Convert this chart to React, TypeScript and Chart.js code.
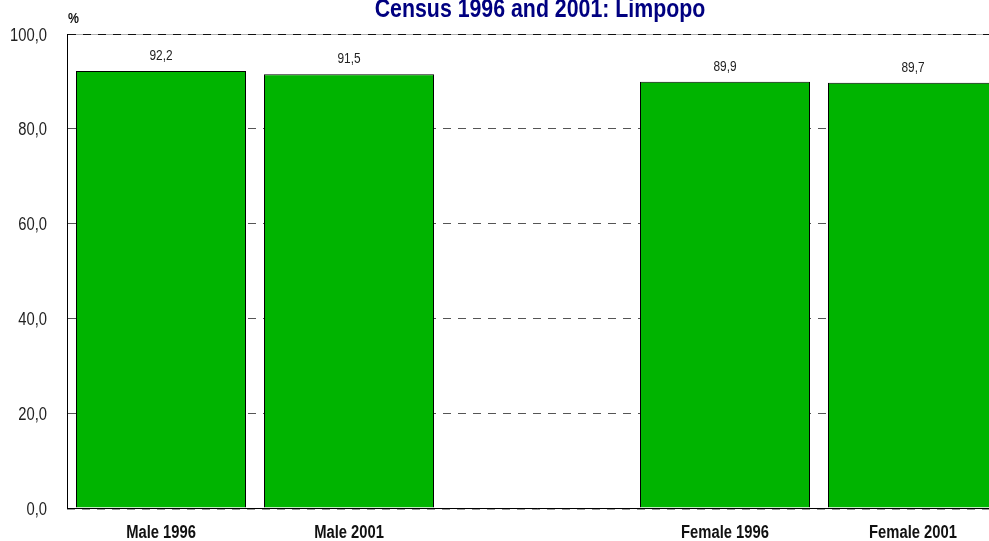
import React, { useEffect, useRef } from "react";
import { Chart, registerables } from "chart.js";

Chart.register(...registerables);

const categories = ["Male 1996", "Male 2001", "", "Female 1996", "Female 2001"];
const values = [92.2, 91.5, null, 89.9, 89.7];
const yTicks = [0, 20, 40, 60, 80, 100];
const titleText = "Census 1996 and 2001: Limpopo";
const yUnit = "%";

const FONT = "'Liberation Sans', Arial, sans-serif";
const NARROW = 0.82;

const fmt = (v: number) => v.toFixed(1).replace(".", ",");

function narrowText(ctx: any, text: string, x: number, y: number, align: string, font: string, color: string, baseline = "alphabetic") {
  ctx.save();
  ctx.font = font;
  ctx.fillStyle = color;
  ctx.textAlign = align;
  ctx.textBaseline = baseline;
  ctx.translate(x, y);
  ctx.scale(NARROW, 1);
  ctx.fillText(text, 0, 0);
  ctx.restore();
}

export default function App() {
  const ref = useRef<HTMLCanvasElement | null>(null);

  useEffect(() => {
    if (!ref.current) return;
    const overlay = {
      id: "overlay",
      beforeDraw(chart: any) {
        const ctx = chart.ctx;
        const area = chart.chartArea;
        const y = Math.round(chart.scales.y.getPixelForValue(100)) + 0.5;
        ctx.save();
        ctx.strokeStyle = "#b0b0b0";
        ctx.lineWidth = 1;
        ctx.beginPath();
        ctx.moveTo(area.left, y);
        ctx.lineTo(area.right, y);
        ctx.stroke();
        const y0 = Math.round(chart.scales.y.getPixelForValue(0)) + 1.5;
        ctx.strokeStyle = "#999";
        ctx.setLineDash([8, 7]);
        ctx.beginPath();
        ctx.moveTo(area.left, y0);
        ctx.lineTo(area.right, y0);
        ctx.stroke();
        ctx.restore();
      },
      afterDraw(chart: any) {
        const ctx = chart.ctx;
        const area = chart.chartArea;
        narrowText(ctx, titleText, (area.left + area.right) / 2 + 3, 17, "center", `bold 26px ${FONT}`, "#000080");
        narrowText(ctx, yUnit, 68, 23, "left", `bold 15px ${FONT}`, "#111");
        const ys = chart.scales.y;
        yTicks.forEach((v) => {
          narrowText(ctx, fmt(v), area.left - 20, ys.getPixelForValue(v) + 6.5, "right", `18px ${FONT}`, "#222");
        });
        const xs = chart.scales.x;
        categories.forEach((c, i) => {
          if (!c) return;
          narrowText(ctx, c, xs.getPixelForValue(i), 538, "center", `bold 18px ${FONT}`, "#111");
        });
      },
      afterDatasetsDraw(chart: any) {
        const ctx = chart.ctx;
        const meta = chart.getDatasetMeta(0);
        meta.data.forEach((el: any, i: number) => {
          const v = values[i];
          if (v == null) return;
          narrowText(ctx, fmt(v), el.x, el.y - 11, "center", `14.5px ${FONT}`, "#222");
        });
      },
    };

    const chart = new Chart(ref.current, {
      type: "bar",
      data: {
        labels: categories,
        datasets: [
          {
            data: values as any,
            backgroundColor: "#00B400",
            borderColor: "#000",
            borderWidth: 1,
            barPercentage: 170 / 188,
            categoryPercentage: 1.0,
          },
        ],
      },
      options: {
        responsive: false,
        animation: false,
        devicePixelRatio: 1,
        layout: { padding: { top: 34, right: 8, left: 0, bottom: 0 } },
        plugins: {
          legend: { display: false },
          title: { display: false },
          tooltip: { enabled: false },
        },
        scales: {
          x: {
            grid: { display: false, drawTicks: false },
            border: { display: true, color: "#000", width: 1 },
            ticks: { display: false, autoSkip: false },
            afterFit(scale: any) {
              scale.height = 33;
            },
          },
          y: {
            min: 0,
            max: 100,
            afterBuildTicks(scale: any) {
              scale.ticks = yTicks.map((v) => ({ value: v }));
            },
            grid: {
              drawTicks: false,
              color: (ctx: any) => (ctx.tick && ctx.tick.value === 100 ? "#111" : "#555"),
              lineWidth: 1,
            },
            border: { display: true, color: "#000", width: 1, dash: [8, 7] },
            ticks: { display: false },
            afterFit(scale: any) {
              scale.width = 67;
            },
          },
        },
      } as any,
      plugins: [overlay],
    });
    return () => chart.destroy();
  }, []);

  return (
    <div
      style={{
        position: "absolute",
        left: 0,
        top: 0,
        width: 989,
        height: 541,
        overflow: "hidden",
        background: "#fff",
      }}
    >
      <canvas ref={ref} width={1015} height={541} style={{ display: "block" }} />
    </div>
  );
}
